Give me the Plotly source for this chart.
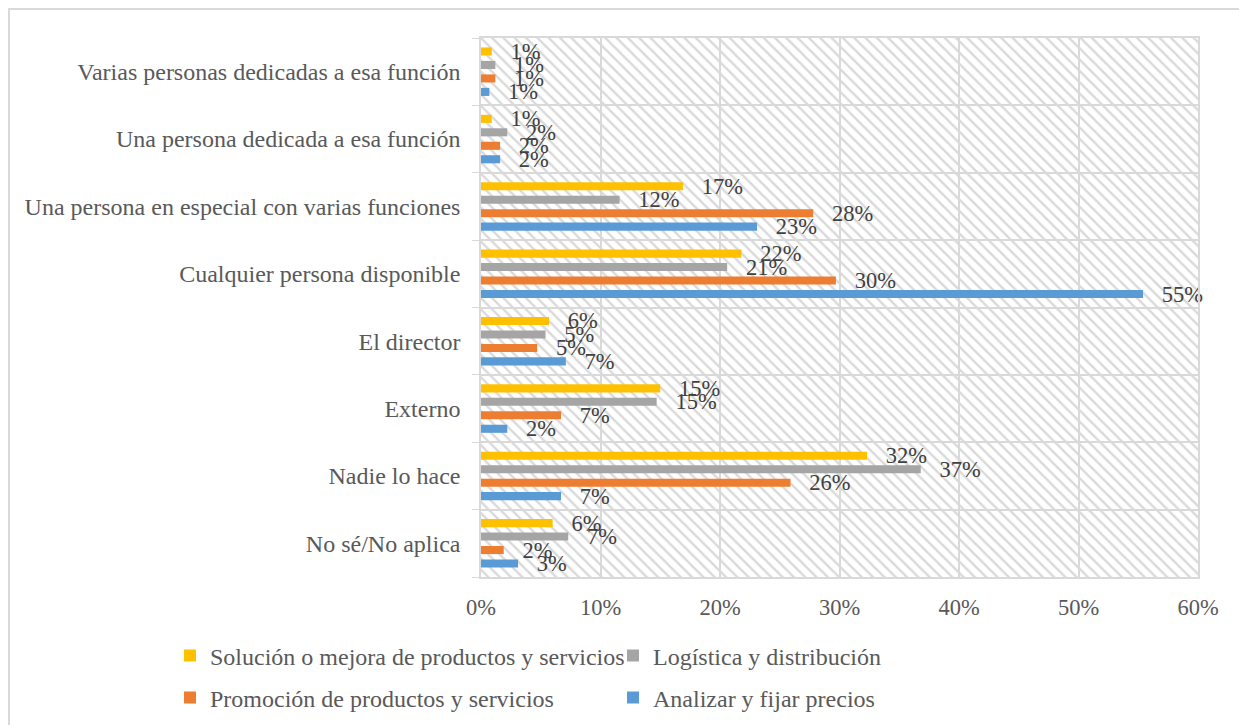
"""
Horizontal grouped bar chart: who handles each commercial function.
"""
import plotly.graph_objects as go

# categories listed top to bottom as they appear in the chart
categories = [
    "Varias personas dedicadas a esa función",
    "Una persona dedicada a esa función",
    "Una persona en especial con varias funciones",
    "Cualquier persona disponible",
    "El director",
    "Externo",
    "Nadie lo hace",
    "No sé/No aplica",
]

# values in percent, same order as categories
solucion = [0.9, 0.9, 16.9, 21.8, 5.7, 15.0, 32.3, 6.0]
logistica = [1.2, 2.2, 11.6, 20.6, 5.4, 14.7, 36.8, 7.3]
promocion = [1.2, 1.6, 27.8, 29.7, 4.7, 6.7, 25.9, 1.9]
precios = [0.7, 1.6, 23.1, 55.4, 7.1, 2.2, 6.7, 3.1]

x_ticks = [0, 10, 20, 30, 40, 50, 60]
x_labels = [f"{v}%" for v in x_ticks]

W, H = 1247, 725
OFF = 8  # the page body adds an 8px margin, so shift everything back by it
ML, MR, MT, MB = 481 - OFF, W - 1198 + OFF, 38 - OFF, H - 577 + OFF
GRID = "#D9D9D9"
FONT = "Liberation Serif"

pw, ph = W - ML - MR, H - MT - MB

# y position of each category (top category gets the highest value)
ypos = [len(categories) - 1 - i for i in range(len(categories))]

fig = go.Figure()

# hatched plot-area background, drawn as a transparent bar with a pattern
fig.add_trace(go.Bar(
    y=[(len(categories) - 1) / 2], x=[x_ticks[-1]], base=0, width=len(categories),
    orientation="h",
    marker=dict(color="rgba(0,0,0,0)", line=dict(width=0),
                pattern=dict(shape="\\", fgcolor=GRID, bgcolor="rgba(0,0,0,0)",
                             size=8, solidity=0.3, fillmode="replace")),
    showlegend=False, hoverinfo="skip",
))

series = [
    ("Solución o mejora de productos y servicios", solucion, "#FFC000", 0.3, "legend"),
    ("Logística y distribución", logistica, "#A5A5A5", 0.1, "legend"),
    ("Promoción de productos y servicios", promocion, "#ED7D31", -0.1, "legend2"),
    ("Analizar y fijar precios", precios, "#5B9BD5", -0.3, "legend2"),
]
bar_w = 0.12
for name, vals, color, shift, leg in series:
    fig.add_trace(go.Bar(
        y=ypos, x=vals, name=name, orientation="h",
        width=bar_w, offset=shift - bar_w / 2,
        marker=dict(color=color, line=dict(width=0)),
        texttemplate="\u00a0\u00a0\u2009%{x:.0f}%",
        textposition="outside", constraintext="none", cliponaxis=False,
        textfont=dict(family=FONT, size=22.5, color="#404040"),
        legend=leg,
    ))

bounds = [i - 0.5 for i in range(len(categories) + 1)]


def legend_row(y_px):
    # legend placed in paper coords, left of and below the plot area
    return dict(
        orientation="h", xref="paper", yref="paper",
        x=(170 - OFF - ML) / pw, y=-((y_px - OFF) - (H - MB)) / ph,
        xanchor="left", yanchor="middle",
        entrywidth=398, font=dict(size=24, color="#595959"),
        bgcolor="rgba(0,0,0,0)",
    )


fig.update_layout(
    width=W, height=H,
    margin=dict(l=ML, r=MR, t=MT, b=MB),
    barmode="overlay",
    paper_bgcolor="white", plot_bgcolor="white",
    font=dict(family=FONT, color="#595959"),
    xaxis=dict(
        range=[x_ticks[0], x_ticks[-1]], tickvals=x_ticks, ticktext=x_labels,
        showgrid=True, gridcolor=GRID, gridwidth=1.5, zeroline=False,
        showline=True, linecolor=GRID, linewidth=1.5, mirror=True,
        tickfont=dict(size=22.5, color="#595959"), ticklabelstandoff=9,
        fixedrange=True,
    ),
    yaxis=dict(
        range=[bounds[0], bounds[-1]], tickvals=ypos, ticktext=categories,
        showgrid=False, zeroline=False,
        showline=True, linecolor=GRID, linewidth=1.5, mirror=True,
        minor=dict(tickvals=bounds, showgrid=True, gridcolor=GRID, gridwidth=1.5,
                   ticks="outside", ticklen=7, tickcolor=GRID),
        tickfont=dict(size=24, color="#595959"), ticklabelstandoff=14,
        fixedrange=True,
    ),
    legend=legend_row(656),
    legend2=legend_row(698),
)

# chart-area border (left and top visible, right/bottom run off the picture)
fig.add_shape(
    type="rect", xref="paper", yref="paper",
    x0=(1 - ML) / pw, x1=(W + 5 - ML) / pw,
    y0=-(H + 5 - (H - MB)) / ph, y1=((H - MB) - 1) / ph,
    line=dict(color=GRID, width=2), fillcolor="rgba(0,0,0,0)", layer="below",
)

fig.write_html("out.html")
